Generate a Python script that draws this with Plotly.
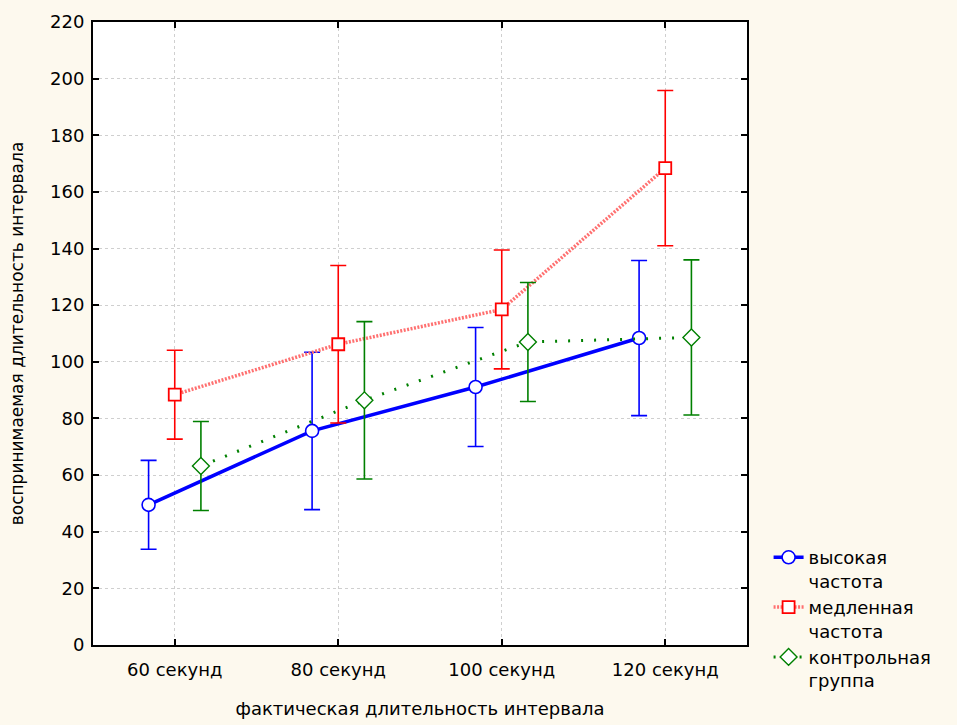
import plotly.graph_objects as go

# Actual interval durations (x categories)
categories = ["60 секунд", "80 секунд", "100 секунд", "120 секунд"]

# Mean perceived duration per group
high_freq = [49.5, 75.6, 91.1, 108.4]
slow_freq = [88.4, 106.2, 118.5, 168.4]
control = [63.2, 86.4, 107.0, 108.6]

# Half-width of the confidence interval at each duration
ci_half = [15.7, 27.8, 21.0, 27.4]

y_ticks = list(range(0, 221, 20))

FONT = "DejaVu Sans, Verdana, sans-serif"
base = list(range(len(categories)))
shift = 0.16

fig = go.Figure()

def add_series(name, values, x_off, color, line, symbol, size, mlw):
    fig.add_trace(go.Scatter(
        x=[b + x_off for b in base],
        y=values,
        name=name,
        mode="lines+markers",
        line=line,
        marker=dict(symbol=symbol, size=size, color="white",
                    line=dict(width=mlw, color=color)),
        error_y=dict(type="data", array=ci_half, visible=True,
                     color=color, thickness=1.6, width=8),
    ))

add_series("высокая<br>частота", high_freq, -shift, "#0000FF",
           dict(color="#0000FF", width=3.5), "circle", 13, 1.6)
add_series("медленная<br>частота", slow_freq, 0.0, "#FF0000",
           dict(color="#FF7070", width=3.5, dash="2px,1.5px"), "square", 12, 1.8)
add_series("контрольная<br>группа", control, shift, "#008000",
           dict(color="#008000", width=3, dash="2px,11px"), "diamond", 13, 1.4)

axis_common = dict(
    showline=True, linecolor="black", linewidth=2, mirror="ticks",
    ticks="inside", ticklen=6, tickwidth=2, tickcolor="black",
    showgrid=True, gridcolor="#CFCFCF", griddash="dot", gridwidth=1,
    zeroline=False, automargin=False,
    tickfont=dict(family=FONT, size=18, color="black"),
)

fig.update_layout(
    width=957, height=725,
    paper_bgcolor="#FDF9EE", plot_bgcolor="white",
    margin=dict(l=93, r=210, t=22, b=80),
    font=dict(family=FONT, size=18, color="black"),
    xaxis=dict(
        range=[-0.5, 3.5], tickvals=base, ticktext=categories,
        ticklabelstandoff=7,
        title=dict(text="фактическая длительность интервала",
                   font=dict(family=FONT, size=18), standoff=24),
        **axis_common,
    ),
    yaxis=dict(
        range=[0, 220], tickvals=y_ticks,
        ticklabelstandoff=3,
        title=dict(text="воспринимаемая длительность интервала",
                   font=dict(family=FONT, size=17), standoff=22),
        **axis_common,
    ),
    legend=dict(
        x=1.033, y=0.17, xanchor="left", yanchor="top",
        bgcolor="rgba(0,0,0,0)", valign="top",
        font=dict(family=FONT, size=18), tracegroupgap=8,
    ),
    showlegend=True,
)

fig.write_html("out.html")
